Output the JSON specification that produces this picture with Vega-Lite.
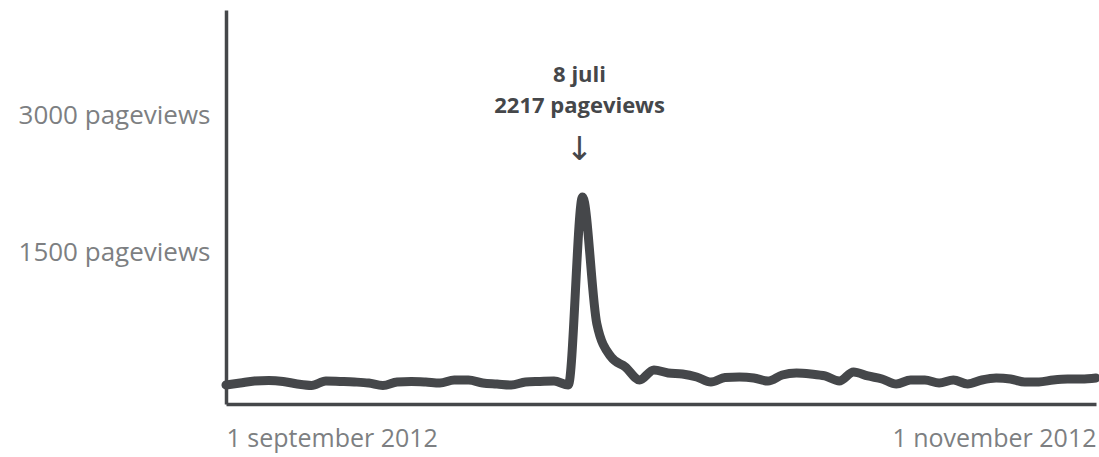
{
  "$schema": "https://vega.github.io/schema/vega-lite/v6.json",
  "width": 870,
  "height": 394,
  "autosize": {"type": "none"},
  "padding": {"left": 226, "top": 10, "right": 3, "bottom": 53},
  "background": "white",
  "config": {"view": {"stroke": null}, "font": "Open Sans"},
  "data": {
    "values": [
      {"date": "2012-09-01", "pageviews": 49},
      {"date": "2012-09-02", "pageviews": 71},
      {"date": "2012-09-03", "pageviews": 93},
      {"date": "2012-09-04", "pageviews": 99},
      {"date": "2012-09-05", "pageviews": 88},
      {"date": "2012-09-06", "pageviews": 60},
      {"date": "2012-09-07", "pageviews": 44},
      {"date": "2012-09-08", "pageviews": 93},
      {"date": "2012-09-09", "pageviews": 88},
      {"date": "2012-09-10", "pageviews": 82},
      {"date": "2012-09-11", "pageviews": 71},
      {"date": "2012-09-12", "pageviews": 44},
      {"date": "2012-09-13", "pageviews": 82},
      {"date": "2012-09-14", "pageviews": 88},
      {"date": "2012-09-15", "pageviews": 82},
      {"date": "2012-09-16", "pageviews": 71},
      {"date": "2012-09-17", "pageviews": 104},
      {"date": "2012-09-18", "pageviews": 104},
      {"date": "2012-09-19", "pageviews": 71},
      {"date": "2012-09-20", "pageviews": 60},
      {"date": "2012-09-21", "pageviews": 49},
      {"date": "2012-09-22", "pageviews": 82},
      {"date": "2012-09-23", "pageviews": 88},
      {"date": "2012-09-24", "pageviews": 93},
      {"date": "2012-09-25", "pageviews": 49},
      {"date": "2012-09-26", "pageviews": 2108},
      {"date": "2012-09-27", "pageviews": 720},
      {"date": "2012-09-28", "pageviews": 356},
      {"date": "2012-09-29", "pageviews": 246},
      {"date": "2012-09-30", "pageviews": 104},
      {"date": "2012-10-01", "pageviews": 214},
      {"date": "2012-10-02", "pageviews": 181},
      {"date": "2012-10-03", "pageviews": 170},
      {"date": "2012-10-04", "pageviews": 137},
      {"date": "2012-10-05", "pageviews": 82},
      {"date": "2012-10-06", "pageviews": 131},
      {"date": "2012-10-07", "pageviews": 137},
      {"date": "2012-10-08", "pageviews": 126},
      {"date": "2012-10-09", "pageviews": 93},
      {"date": "2012-10-10", "pageviews": 159},
      {"date": "2012-10-11", "pageviews": 181},
      {"date": "2012-10-12", "pageviews": 170},
      {"date": "2012-10-13", "pageviews": 148},
      {"date": "2012-10-14", "pageviews": 93},
      {"date": "2012-10-15", "pageviews": 192},
      {"date": "2012-10-16", "pageviews": 148},
      {"date": "2012-10-17", "pageviews": 115},
      {"date": "2012-10-18", "pageviews": 60},
      {"date": "2012-10-19", "pageviews": 104},
      {"date": "2012-10-20", "pageviews": 104},
      {"date": "2012-10-21", "pageviews": 71},
      {"date": "2012-10-22", "pageviews": 104},
      {"date": "2012-10-23", "pageviews": 60},
      {"date": "2012-10-24", "pageviews": 104},
      {"date": "2012-10-25", "pageviews": 126},
      {"date": "2012-10-26", "pageviews": 115},
      {"date": "2012-10-27", "pageviews": 82},
      {"date": "2012-10-28", "pageviews": 82},
      {"date": "2012-10-29", "pageviews": 104},
      {"date": "2012-10-30", "pageviews": 115},
      {"date": "2012-10-31", "pageviews": 115},
      {"date": "2012-11-01", "pageviews": 126}
    ]
  },
  "encoding": {
    "x": {
      "field": "date",
      "type": "temporal",
      "scale": {
        "type": "utc",
        "domain": [
          {"year": 2012, "month": 9, "date": 1, "utc": true},
          {"year": 2012, "month": 11, "date": 1, "utc": true}
        ]
      },
      "axis": {
        "title": null,
        "values": [
          {"year": 2012, "month": 9, "date": 1, "utc": true},
          {"year": 2012, "month": 11, "date": 1, "utc": true}
        ],
        "labelExpr": "datum.index == 0 ? '1 september 2012' : '1 november 2012'",
        "labelFlush": true,
        "labelLimit": 0,
        "labelOverlap": false,
        "labelFont": "Open Sans",
        "labelFontSize": 25,
        "labelColor": "#7d7f82",
        "labelPadding": 22,
        "ticks": false,
        "grid": false,
        "domainColor": "#45474a",
        "domainWidth": 3.5
      }
    },
    "y": {
      "field": "pageviews",
      "type": "quantitative",
      "scale": {"domain": [-159, 4155], "nice": false, "zero": false},
      "axis": {
        "title": null,
        "values": [1500, 3000],
        "labelExpr": "datum.value + ' pageviews'",
        "labelLimit": 0,
        "labelOverlap": false,
        "labelFont": "Open Sans",
        "labelFontSize": 26,
        "labelColor": "#7d7f82",
        "labelPadding": 16,
        "ticks": false,
        "grid": false,
        "domainColor": "#45474a",
        "domainWidth": 3.5
      }
    }
  },
  "layer": [
    {
      "mark": {
        "type": "line",
        "color": "#45474a",
        "strokeWidth": 9,
        "strokeCap": "round",
        "strokeJoin": "round",
        "interpolate": "monotone"
      }
    },
    {
      "transform": [{"filter": "datum.pageviews > 2000"}],
      "mark": {"type": "text", "text": "8 juli", "font": "Open Sans", "fontWeight": "bold", "fontSize": 22, "color": "#45474a", "baseline": "alphabetic", "dy": -115, "dx": -3}
    },
    {
      "transform": [{"filter": "datum.pageviews > 2000"}],
      "mark": {"type": "text", "text": "2217 pageviews", "font": "Open Sans", "fontWeight": "bold", "fontSize": 22, "color": "#45474a", "baseline": "alphabetic", "dy": -84, "dx": -3}
    },
    {
      "transform": [{"filter": "datum.pageviews > 2000"}],
      "mark": {"type": "text", "text": "↓", "font": "DejaVu Sans", "fontSize": 33, "color": "#45474a", "baseline": "alphabetic", "dy": -37, "dx": -3}
    }
  ]
}
